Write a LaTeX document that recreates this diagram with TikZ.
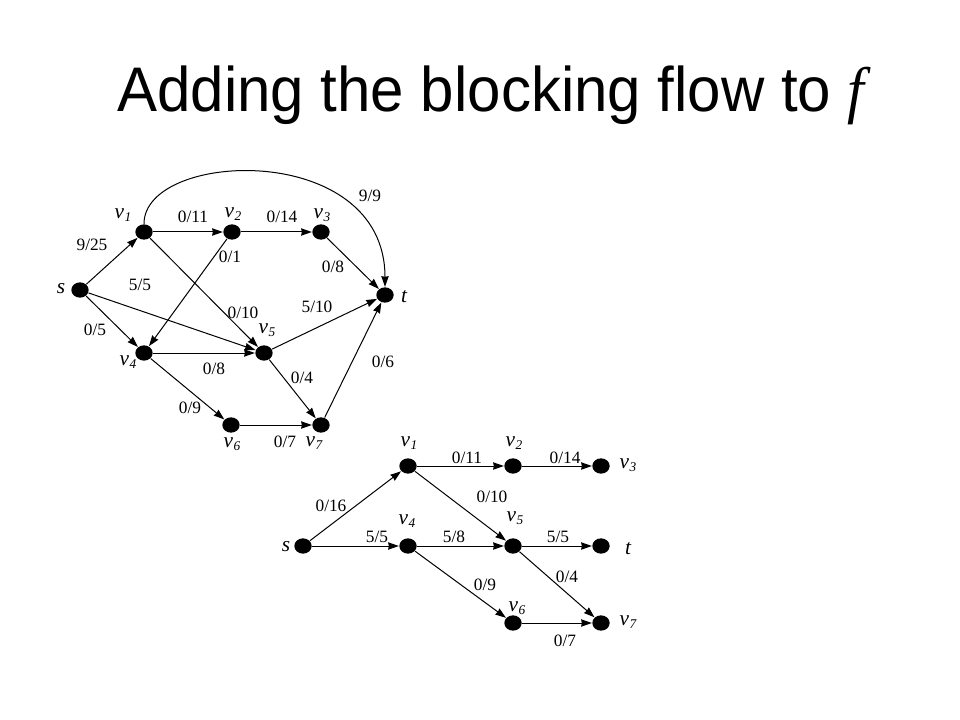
\documentclass[tikz,border=0pt]{standalone}
\usepackage{fontspec}
\setmainfont{Liberation Serif}
\newfontfamily\titlefont{Liberation Sans}
\usetikzlibrary{arrows.meta,shapes.geometric}

\newcommand{\vn}[1]{\textit{v}\kern0.3pt\raisebox{-0.3ex}{\fontsize{10}{10}\selectfont\textit{#1}}}

\begin{document}
\begin{tikzpicture}[x=0.75pt,y=-0.75pt, line width=0.75pt, >={Stealth[length=8pt,width=5.5pt,inset=0.5pt]}]
\tikzset{dot/.style={ellipse,fill=black,minimum width=13pt,minimum height=11.5pt,inner sep=0pt},
  vname/.style={font=\fontsize{16}{16}\selectfont\itshape,inner sep=0pt},
  flow/.style={font=\fontsize{13}{13}\selectfont,inner sep=0pt}}
\useasboundingbox (0,0) rectangle (960,720);
\node (title) at (117,112) [anchor=base west,inner sep=0pt,font=\titlefont\fontsize{45}{45}\selectfont] {\scalebox{1}[1.05]{Adding the blocking flow to {\rmfamily\itshape f}}};

% network with flow f
\node (s) at (80,290) [dot] {};
\node (v1) at (144,232) [dot] {};
\node (v2) at (232,232) [dot] {};
\node (v3) at (321,232) [dot] {};
\node (t) at (385,295) [dot] {};
\node (v4) at (144,353) [dot] {};
\node (v5) at (264,353) [dot] {};
\node (v6) at (231,425) [dot] {};
\node (v7) at (321,425) [dot] {};
\node (ns) at (61,289) [vname] {s};
\node (nt) at (404,297) [vname] {t};
\node (nv1) at (123,215) [vname] {\vn{1}};
\node (nv2) at (233,214) [vname] {\vn{2}};
\node (nv3) at (322,215) [vname] {\vn{3}};
\node (nv4) at (128,362) [vname] {\vn{4}};
\node (nv5) at (267,330) [vname] {\vn{5}};
\node (nv6) at (232,444) [vname] {\vn{6}};
\node (nv7) at (314,443) [vname] {\vn{7}};
\draw[->] (s) -- (v1);
\draw[->] (s) -- (v4);
\draw[->] (s) -- (v5);
\draw[->] (v1) -- (v2);
\draw[->] (v1) -- (v5);
\draw[->] (v1) .. controls (144,150) and (385,140) .. (t);
\draw[->] (v2) -- (v3);
\draw[->] (v2) -- (v4);
\draw[->] (v3) -- (t);
\draw[->] (v4) -- (v5);
\draw[->] (v4) -- (v6);
\draw[->] (v5) -- (t);
\draw[->] (v5) -- (v7);
\draw[->] (v6) -- (v7);
\draw[->] (v7) -- (t);
\node (f1) at (370,196) [flow] {9/9};
\node (f2) at (193,217) [flow] {0/11};
\node (f3) at (282,217) [flow] {0/14};
\node (f4) at (92,245) [flow] {9/25};
\node (f5) at (230,257) [flow] {0/1};
\node (f6) at (333,267) [flow] {0/8};
\node (f7) at (140,285) [flow] {5/5};
\node (f8) at (317,307) [flow] {5/10};
\node (f9) at (243,313) [flow] {0/10};
\node (f10) at (95,330) [flow] {0/5};
\node (f11) at (214,369) [flow] {0/8};
\node (f12) at (302,378) [flow] {0/4};
\node (f13) at (383,362) [flow] {0/6};
\node (f14) at (190,408) [flow] {0/9};
\node (f15) at (285,442) [flow] {0/7};

% blocking flow in the level graph
\node (Ls) at (303,546) [dot] {};
\node (Lv1) at (408,466) [dot] {};
\node (Lv2) at (513,466) [dot] {};
\node (Lv3) at (601,466) [dot] {};
\node (Lv4) at (408,546) [dot] {};
\node (Lv5) at (513,546) [dot] {};
\node (Lt) at (601,546) [dot] {};
\node (Lv6) at (513,623) [dot] {};
\node (Lv7) at (601,623) [dot] {};
\node (nLs) at (286,547) [vname] {s};
\node (nLt) at (628,549) [vname] {t};
\node (nLv1) at (409,443) [vname] {\vn{1}};
\node (nLv2) at (514,443) [vname] {\vn{2}};
\node (nLv3) at (628,465) [vname] {\vn{3}};
\node (nLv4) at (407,521) [vname] {\vn{4}};
\node (nLv5) at (515,518) [vname] {\vn{5}};
\node (nLv6) at (517,608) [vname] {\vn{6}};
\node (nLv7) at (628,622) [vname] {\vn{7}};
\draw[->] (Ls) -- (Lv1);
\draw[->] (Ls) -- (Lv4);
\draw[->] (Lv1) -- (Lv2);
\draw[->] (Lv1) -- (Lv5);
\draw[->] (Lv2) -- (Lv3);
\draw[->] (Lv4) -- (Lv5);
\draw[->] (Lv4) -- (Lv6);
\draw[->] (Lv5) -- (Lt);
\draw[->] (Lv5) -- (Lv7);
\draw[->] (Lv6) -- (Lv7);
\node (g1) at (467,458) [flow] {0/11};
\node (g2) at (565,458) [flow] {0/14};
\node (g3) at (331,506) [flow] {0/16};
\node (g4) at (492,497) [flow] {0/10};
\node (g5) at (377,537) [flow] {5/5};
\node (g6) at (454,537) [flow] {5/8};
\node (g7) at (558,537) [flow] {5/5};
\node (g8) at (567,577) [flow] {0/4};
\node (g9) at (485,585) [flow] {0/9};
\node (g10) at (565,641) [flow] {0/7};
\end{tikzpicture}
\end{document}
